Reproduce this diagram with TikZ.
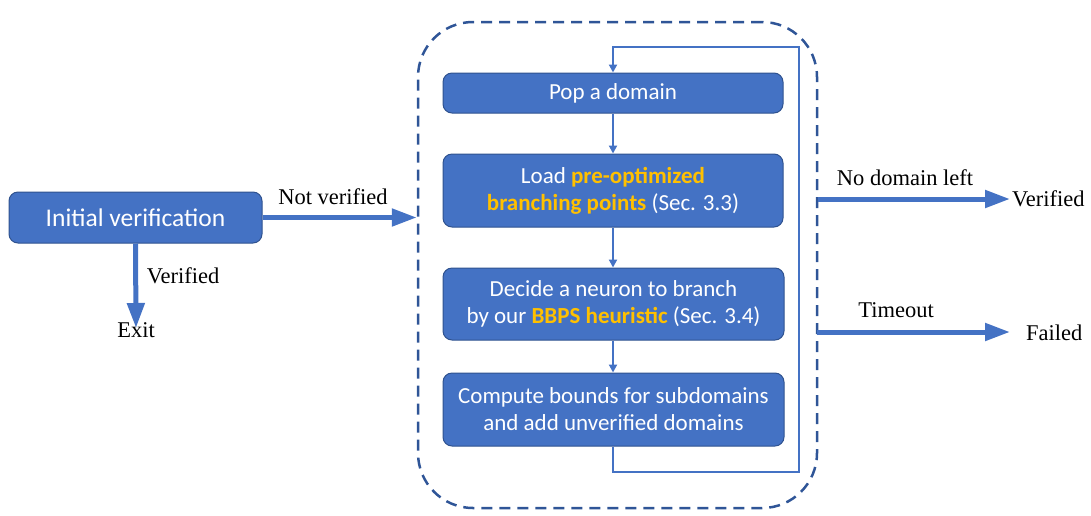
\documentclass[tikz,border=0pt]{standalone}
\usepackage{fontspec}
\setmainfont{Liberation Serif}
\newfontfamily\boxfont{Carlito}
\usetikzlibrary{arrows.meta}
\definecolor{boxblue}{HTML}{4472C4}
\definecolor{boxedge}{HTML}{2F528F}
\definecolor{hl}{HTML}{FFC000}
\definecolor{dashblue}{HTML}{2F5597}
\begin{document}
\begin{tikzpicture}[x=1pt,y=-1pt,
  procbox/.style={draw=boxedge, line width=1pt, fill=boxblue, rounded corners=9pt,
    text=white, font=\boxfont\fontsize{23}{27}\selectfont, align=center,
    minimum width=340pt, inner sep=0pt},
  lbl/.style={font=\fontsize{22.5}{26}\selectfont, inner sep=0pt, anchor=base},
  bigarrow/.style={draw=boxblue, line width=5pt, -{Triangle[length=25pt,width=17pt]}},
  smallarrow/.style={draw=boxblue, line width=2pt, -{Triangle[length=8pt,width=8pt]}}]
\useasboundingbox (0,0) rectangle (1091,515);
% container
\node[draw=dashblue, line width=2.5pt, dash pattern=on 11pt off 7pt, rounded corners=55pt,
      minimum width=399pt, minimum height=486pt, inner sep=0pt] (loopbox) at (617.5,265) {};
% boxes
\node[procbox, minimum width=253pt, minimum height=51pt, font=\boxfont\fontsize{25.5}{29}\selectfont] (init) at (135.5,217.5) {Initial verification};
\node[procbox, minimum height=40pt] (pop) at (613,93) {Pop a domain};
\node[procbox, minimum height=73pt] (load) at (613,190.5) {Load \textcolor{hl}{\textbf{pre-optimized}}\\\textcolor{hl}{\textbf{branching points}} (Sec. 3.3)};
\node[procbox, minimum width=341pt, minimum height=72pt] (decide) at (613.5,304) {Decide a neuron to branch\\by our \textcolor{hl}{\textbf{BBPS heuristic}} (Sec. 3.4)};
\node[procbox, minimum width=341pt, minimum height=73pt] (compute) at (613.5,409.5) {Compute bounds for subdomains\\and add unverified domains};
% outcome nodes
\node[font=\fontsize{22.5}{26}\selectfont, inner sep=0pt, anchor=north] (exit) at (136,322) {Exit};
\node[font=\fontsize{22.5}{26}\selectfont, inner sep=2pt, anchor=west] (verok) at (1010,199) {Verified};
\node[font=\fontsize{22.5}{26}\selectfont, inner sep=0pt, anchor=west] (failed) at (1026,333) {Failed};
% inner flow
\draw[smallarrow] (pop.south) -- (pop.south |- load.north);
\draw[smallarrow] (load.south) -- (load.south |- decide.north);
\draw[smallarrow] (load.south |- decide.south) -- (load.south |- compute.north);
\coordinate (loopbr) at (799,472);
\coordinate (looptr) at (799,47);
\draw[smallarrow] (load.south |- compute.south) |- (loopbr) -- (looptr) -| (pop.north);
% big arrows
\draw[bigarrow] (init.east) -- (init.east -| loopbox.west);
\draw[bigarrow] (init.south) -- ([yshift=-6pt]exit.north);
\coordinate (outa) at (loopbox.east |- verok.west);
\coordinate (outb) at (817,332);
\draw[bigarrow] (outa) -- (verok.west);
\draw[bigarrow, shorten >=16pt] (outb) -- (failed.west |- outb);
% labels
\node[lbl] (lnv) at (333,204) {Not verified};
\node[lbl] (lv) at (183,283) {Verified};
\node[lbl] (lnd) at (905,185) {No domain left};
\node[lbl] (lto) at (896,317) {Timeout};
\end{tikzpicture}
\end{document}
